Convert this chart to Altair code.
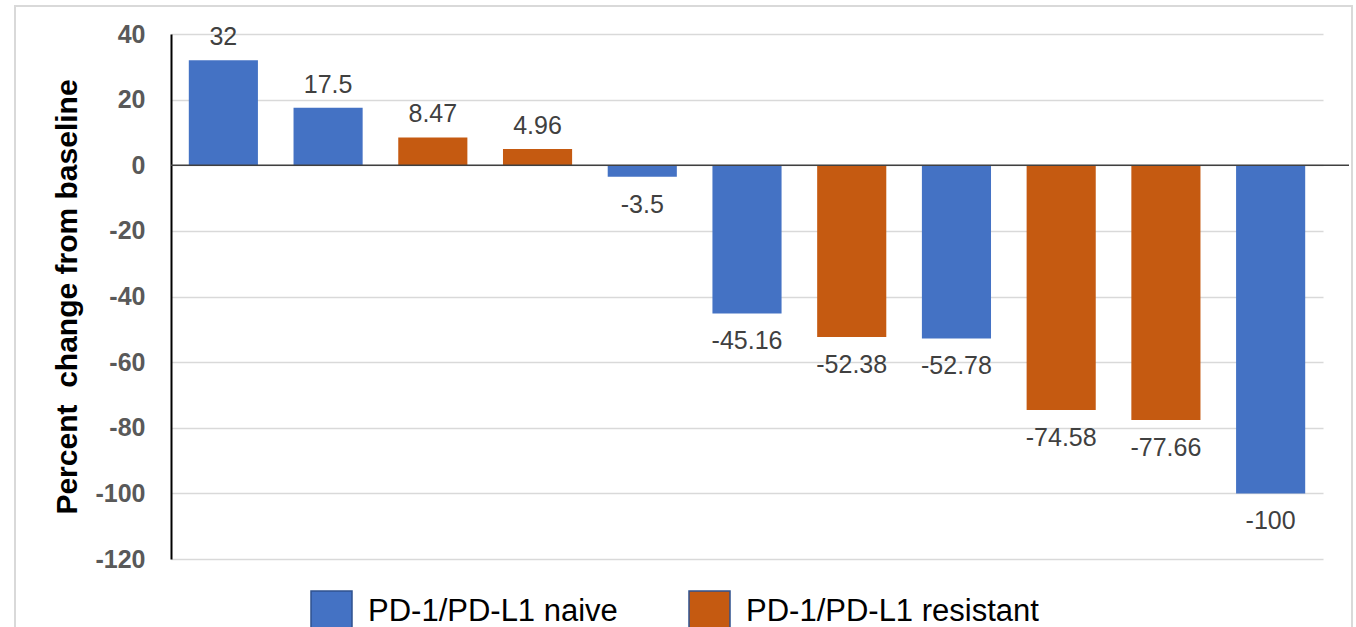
import altair as alt
import pandas as pd

# Best percent change from baseline, one bar per patient (waterfall order)
patients = ["P01", "P02", "P03", "P04", "P05", "P06", "P07", "P08", "P09", "P10", "P11"]
changes = [32, 17.5, 8.47, 4.96, -3.5, -45.16, -52.38, -52.78, -74.58, -77.66, -100]
groups = [
    "PD-1/PD-L1 naive", "PD-1/PD-L1 naive", "PD-1/PD-L1 resistant", "PD-1/PD-L1 resistant",
    "PD-1/PD-L1 naive", "PD-1/PD-L1 naive", "PD-1/PD-L1 resistant", "PD-1/PD-L1 naive",
    "PD-1/PD-L1 resistant", "PD-1/PD-L1 resistant", "PD-1/PD-L1 naive",
]
group_names = ["PD-1/PD-L1 naive", "PD-1/PD-L1 resistant"]
group_colors = ["#4472C4", "#C55A11"]
y_ticks = [-120, -100, -80, -60, -40, -20, 0, 20, 40]

df = pd.DataFrame({"patient": patients, "change": changes, "group": groups})

W, H = 1152, 525
FONT = "Liberation Sans"

base = alt.Chart(df).transform_calculate(label="'' + datum.change")

x_enc = alt.X("patient:N", sort=None, axis=None,
              scale=alt.Scale(paddingInner=0.34, paddingOuter=0.17))
y_scale = alt.Scale(domain=[-120, 40], nice=False, zero=False)

bars = base.mark_bar().encode(
    x=x_enc,
    y=alt.Y(
        "change:Q",
        scale=y_scale,
        axis=alt.Axis(
            values=y_ticks,
            labelExpr="'' + datum.value",
            grid=True, gridColor="#D9D9D9", gridWidth=1.5,
            domain=True, domainColor="black", domainWidth=2,
            ticks=False, tickSize=0, labelPadding=26,
            labelFont=FONT, labelFontSize=25, labelFontWeight="bold", labelColor="#595959",
            title="Percent\u00a0 change from baseline",
            titleFont=FONT, titleFontSize=30, titleFontWeight="bold", titleColor="black",
            titlePadding=12,
        ),
    ),
    y2=alt.datum(0),
    color=alt.Color(
        "group:N",
        scale=alt.Scale(domain=group_names, range=group_colors),
        legend=alt.Legend(title=None),
    ),
)

pos_labels = base.transform_filter("datum.change >= 0").mark_text(
    font=FONT, fontSize=25, color="#404040", baseline="alphabetic", dy=-15
).encode(x=x_enc, y=alt.Y("change:Q", scale=y_scale), text="label:N")

neg_labels = base.transform_filter("datum.change < 0").mark_text(
    font=FONT, fontSize=25, color="#404040", baseline="alphabetic", dy=36
).encode(x=x_enc, y=alt.Y("change:Q", scale=y_scale), text="label:N")

zero_line = alt.Chart(pd.DataFrame({"v": [0]})).mark_rule(
    color="#404040", strokeWidth=1.5
).encode(y=alt.Y("v:Q", scale=y_scale), x=alt.value(0), x2=alt.value(W + 26))

frame = alt.Chart(pd.DataFrame({"v": [0]})).mark_rect(
    fill=None, stroke="#D9D9D9", strokeWidth=2
).encode(x=alt.value(-156), x2=alt.value(1181), y=alt.value(-28), y2=alt.value(640))

chart = alt.layer(frame, bars, zero_line, pos_labels, neg_labels).properties(
    width=W, height=H,
    autosize=alt.AutoSizeParams(type="none"),
    padding={"left": 171, "top": 34, "right": 33, "bottom": 68},
).configure_view(stroke=None).configure_legend(
    orient="none", legendX=139, legendY=556, direction="horizontal",
    symbolType="square", symbolSize=1681, symbolStrokeColor="#2F528F", symbolStrokeWidth=1.5,
    labelFont=FONT, labelFontSize=31, labelColor="black", labelOffset=15, labelLimit=0,
    columnPadding=68, padding=0,
)

chart.save("out.html", embed_options={"renderer": "svg", "actions": False})
